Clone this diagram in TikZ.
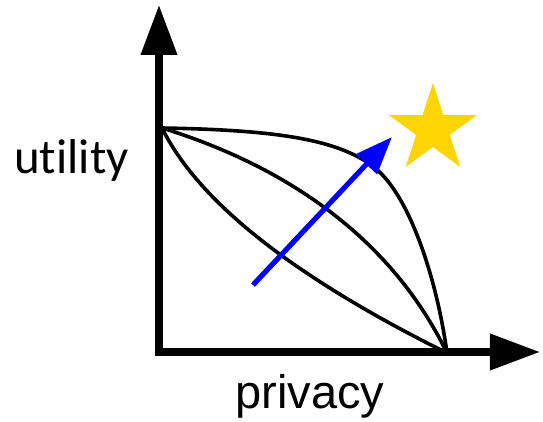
\documentclass[tikz,border=0pt]{standalone}
\usepackage{fontspec}
\setmainfont{Liberation Sans}
\newfontfamily\utilfont[Ligatures=NoCommon]{Carlito}
\usetikzlibrary{arrows.meta, shapes.geometric}
\definecolor{stargold}{RGB}{255,212,0}

\begin{document}
\begin{tikzpicture}[x=0.5pt, y=-0.5pt,
    axis/.style={line width=3.6pt, line cap=rect, -{Triangle[length=25pt, width=17.5pt]}},
    front/.style={line width=1.8pt},
    axislabel/.style={anchor=base}]
  \useasboundingbox (0,0) rectangle (543,422);
  % axes
  \coordinate (o) at (159,352);
  \coordinate (ytop) at (159,5);
  \coordinate (xend) at (540,352);
  \draw[axis] (o) -- (ytop);
  \draw[axis] (o) -- (xend);
  % trade-off curves
  \coordinate (u) at (162,128);
  \coordinate (p) at (447,353);
  \draw[front] (u) .. controls (280,130) and (340,140) .. (375,168)
    .. controls (410,196) and (437,280) .. (p);
  \draw[front] (u) .. controls (250,155) and (380,215) .. (p);
  \draw[front] (u) .. controls (200,205) and (300,280) .. (p);
  % improvement
  \coordinate (a0) at (253,285);
  \coordinate (a1) at (392,137);
  \draw[line width=2.6pt, blue, -{Triangle[length=18.75pt, width=14pt]}] (a0) -- (a1);
  \node[star, star points=5, star point ratio=2.618, minimum size=46.4pt,
    inner sep=0pt, fill=stargold] (goal) at (433,129.4) {};
  % labels
  \node[axislabel, font=\utilfont\fontsize{24.5}{28}\selectfont] (util) at (71.5,174) {utility};
  \node[axislabel, font=\fontsize{23.5}{28}\selectfont] (priv) at (310,409) {privacy};
\end{tikzpicture}
\end{document}
